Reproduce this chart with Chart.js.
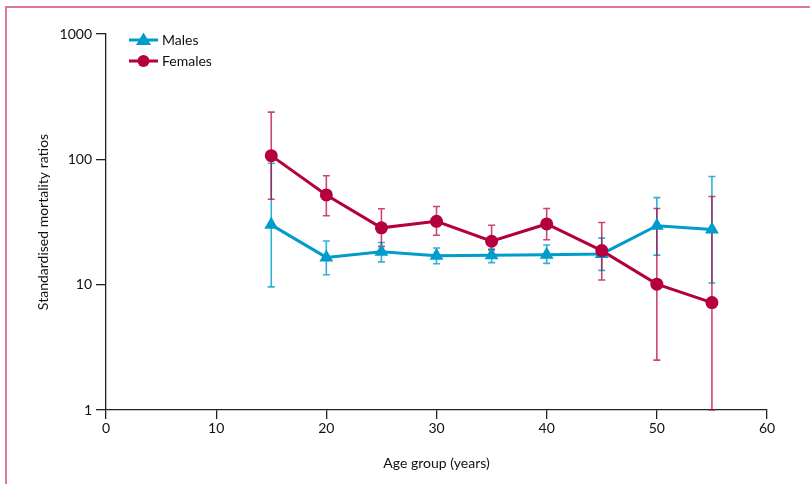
<!DOCTYPE html>
<html>
<head>
<meta charset="utf-8">
<script src="https://cdn.jsdelivr.net/npm/chart.js@4.4.1/dist/chart.umd.min.js"></script>
<style>
  html, body { margin: 0; padding: 0; background: #fff; }
  .wrap { position: relative; width: 810px; height: 484px; overflow: hidden; }
  .frame { position: absolute; left: 5px; top: 6px; width: 900px; height: 600px;
           border-top: 2px solid #e2759a; border-left: 2px solid #e2759a; box-sizing: border-box; }
  canvas { position: absolute; left: 0; top: 0; }
</style>
</head>
<body>
<div class="wrap">
  <div class="frame"></div>
  <canvas id="chart" width="810" height="484"></canvas>
</div>
<script>
const ages = [15, 20, 25, 30, 35, 40, 45, 50, 55];

const malesSMR   = [30, 16.5, 18.3, 17, 17.2, 17.3, 17.6, 29.5, 27.5];
const malesLower = [9.6, 12, 15.2, 14.7, 15.0, 14.8, 13, 17.2, 10.3];
const malesUpper = [93, 22.3, 21.7, 19.6, 19.2, 20.7, 23.5, 49.5, 73];

const femalesSMR   = [107, 52, 28.4, 32, 22.2, 30.5, 18.7, 10.1, 7.2];
const femalesLower = [48, 35.5, 20.2, 24.8, 18.9, 22.8, 10.9, 2.5, 1.0];
const femalesUpper = [238, 74, 40.3, 42, 29.8, 40.5, 31.3, 40.5, 50.5];

const yTicks = [1, 10, 100, 1000];
const xTicks = [0, 10, 20, 30, 40, 50, 60];

const cyan = '#009ccb';
const crimson = '#b4003c';
const font = 'Lato';

const errorBars = {
  id: 'errorBars',
  beforeDatasetsDraw(chart) {
    const ctx = chart.ctx;
    const x = chart.scales.x, y = chart.scales.y;
    const sets = [
      { lo: malesLower, hi: malesUpper, color: 'rgba(0,156,203,0.8)' },
      { lo: femalesLower, hi: femalesUpper, color: 'rgba(180,0,60,0.72)' }
    ];
    ctx.save();
    ctx.lineWidth = 1.6;
    sets.forEach(s => {
      ctx.strokeStyle = s.color;
      ages.forEach((a, i) => {
        const px = x.getPixelForValue(a);
        const top = y.getPixelForValue(s.hi[i]);
        const bot = y.getPixelForValue(s.lo[i]);
        ctx.beginPath();
        ctx.moveTo(px, top); ctx.lineTo(px, bot);
        ctx.moveTo(px - 3.5, top); ctx.lineTo(px + 3.5, top);
        ctx.moveTo(px - 3.5, bot); ctx.lineTo(px + 3.5, bot);
        ctx.stroke();
      });
    });
    ctx.restore();
  }
};

// small legend at the top left, like the figure
const legendBox = {
  id: 'legendBox',
  afterDraw(chart) {
    const ctx = chart.ctx;
    const items = [
      { label: 'Males', color: cyan, shape: 'triangle', y: 40 },
      { label: 'Females', color: crimson, shape: 'circle', y: 61 }
    ];
    ctx.save();
    items.forEach(it => {
      ctx.strokeStyle = it.color;
      ctx.fillStyle = it.color;
      ctx.lineWidth = 3;
      ctx.beginPath();
      ctx.moveTo(129, it.y); ctx.lineTo(158, it.y);
      ctx.stroke();
      ctx.beginPath();
      if (it.shape === 'triangle') {
        ctx.moveTo(143.5, it.y - 7.5);
        ctx.lineTo(151, it.y + 5);
        ctx.lineTo(136, it.y + 5);
        ctx.closePath();
      } else {
        ctx.arc(143.5, it.y, 6, 0, Math.PI * 2);
      }
      ctx.fill();
      ctx.fillStyle = '#111';
      ctx.font = '14px ' + font;
      ctx.textBaseline = 'middle';
      ctx.fillText(it.label, 162, it.y);
    });
    ctx.restore();
  }
};

new Chart(document.getElementById('chart'), {
  type: 'line',
  data: {
    datasets: [
      {
        label: 'Males',
        data: ages.map((a, i) => ({ x: a, y: malesSMR[i] })),
        borderColor: cyan,
        backgroundColor: cyan,
        borderWidth: 3,
        pointStyle: 'triangle',
        pointRadius: 8,
        pointHoverRadius: 8,
        pointBorderWidth: 0,
        order: 2
      },
      {
        label: 'Females',
        data: ages.map((a, i) => ({ x: a, y: femalesSMR[i] })),
        borderColor: crimson,
        backgroundColor: crimson,
        borderWidth: 3,
        pointStyle: 'circle',
        pointRadius: 6.5,
        pointHoverRadius: 6.5,
        pointBorderWidth: 0,
        order: 1
      }
    ]
  },
  options: {
    responsive: false,
    animation: false,
    layout: { padding: { left: 0, right: 43, top: 34, bottom: 0 } },
    plugins: {
      legend: { display: false },
      tooltip: { enabled: false }
    },
    scales: {
      x: {
        type: 'linear',
        min: 0,
        max: 60,
        afterFit: s => { s.height = 74; },
        afterBuildTicks: s => { s.ticks = xTicks.map(v => ({ value: v })); },
        grid: { drawOnChartArea: false, drawTicks: true, tickLength: 9, color: '#222', lineWidth: 1.3 },
        border: { display: true, color: '#222', width: 1.3 },
        ticks: { color: '#111', font: { family: font, size: 14 }, padding: 1 },
        title: {
          display: true,
          text: 'Age group (years)',
          color: '#111',
          font: { family: font, size: 14 },
          padding: { top: 0, bottom: 12 }
        }
      },
      y: {
        type: 'logarithmic',
        min: 1,
        max: 1000,
        afterFit: s => { s.width = 106; },
        afterBuildTicks: s => { s.ticks = yTicks.map(v => ({ value: v })); },
        grid: { drawOnChartArea: false, drawTicks: true, tickLength: 10, color: '#222', lineWidth: 1.3 },
        border: { display: true, color: '#222', width: 1.3 },
        ticks: {
          color: '#111',
          font: { family: font, size: 14 },
          padding: 4,
          callback: v => String(v)
        },
        title: {
          display: true,
          text: 'Standardised mortality ratios',
          color: '#111',
          font: { family: font, size: 14 },
          padding: { top: 35, bottom: 0 }
        }
      }
    }
  },
  plugins: [errorBars, legendBox]
});
</script>
</body>
</html>
